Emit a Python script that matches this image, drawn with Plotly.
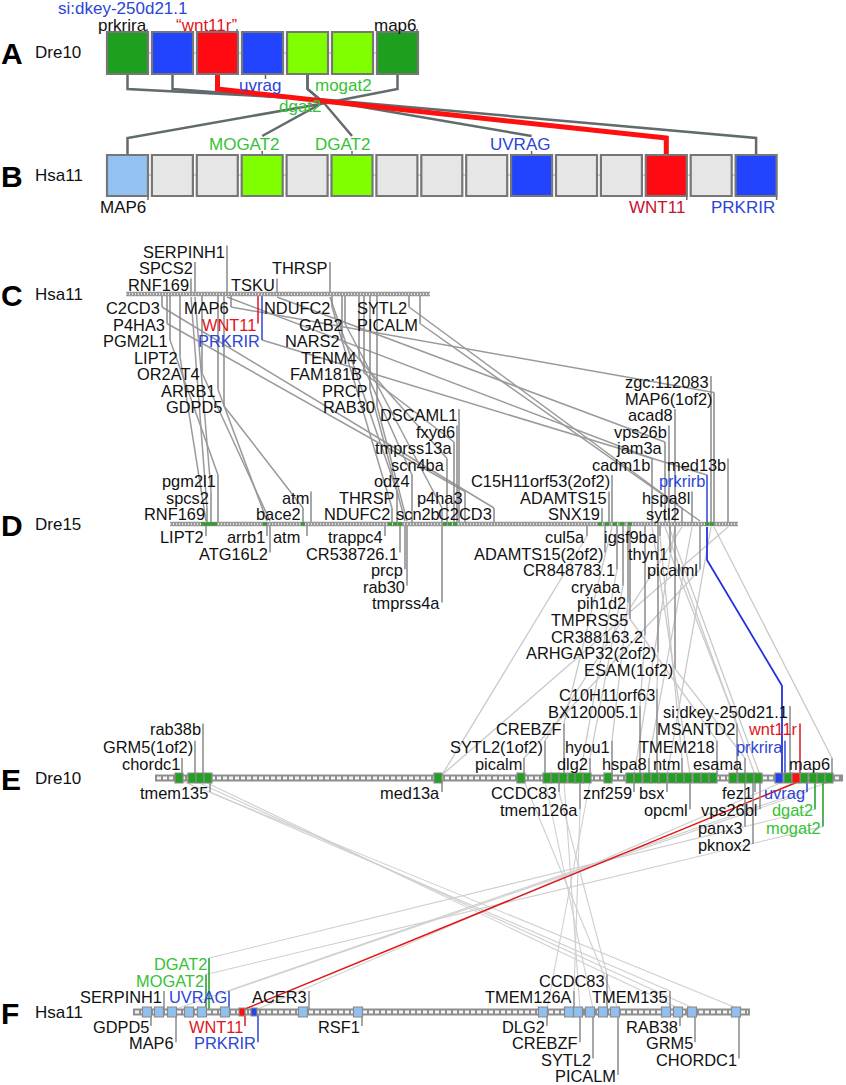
import plotly.graph_objects as go

W, H = 846, 1085
FONT = "Liberation Sans, Arial, sans-serif"
LBL = 16.4
TXT = {"k": "#111111", "r": "#e3141b", "b": "#2b45d6", "g": "#35c235", "R": "#c8102e"}
TICKC = {"k": "#8a8a8a", "r": "#e3141b", "b": "#2b45d6", "g": "#1f9a1f", "R": "#8a8a8a"}

# ---------------- Panel A / B data ----------------
A_names = ["prkrira", "si:dkey-250d21.1", "\u201cwnt11r\u201d", "uvrag", "dgat2", "mogat2", "map6"]
A_fill = ["#1f9f1f", "#2244ff", "#ff0a12", "#2244ff", "#80ff00", "#80ff00", "#1f9f1f"]
A_top_labels = [(0, "prkrira", "k", 1), (1, "si:dkey-250d21.1", "b", 2), (2, "\u201cwnt11r\u201d", "r", 1), (6, "map6", "k", 1)]
A_bottom_labels = [(3, "uvrag", "b"), (5, "mogat2", "g")]
B_fill = ["#93c2f2", "#e6e6e6", "#e6e6e6", "#80ff00", "#e6e6e6", "#80ff00", "#e6e6e6", "#e6e6e6",
          "#e6e6e6", "#2244ff", "#e6e6e6", "#e6e6e6", "#ff0a12", "#e6e6e6", "#2244ff"]
B_top_labels = [(3, "MOGAT2", "g"), (5, "DGAT2", "g"), (9, "UVRAG", "b")]
B_bottom_labels = [(0, "MAP6", "k"), (12, "WNT11", "R"), (14, "PRKRIR", "b")]
AB_links = [(0, 14, "gray"), (1, 9, "gray"), (2, 12, "red"), (4, 5, "gray"), (4, 3, "gray"), (6, 0, "gray")]

# ---------------- Panels C-F: gene labels (name, position on chromosome, label row, colour) ----------------
C_names = ["SERPINH1", "SPCS2", "RNF169", "TSKU", "THRSP", "C2CD3", "MAP6", "NDUFC2", "SYTL2", "P4HA3",
           "WNT11", "GAB2", "PICALM", "PGM2L1", "PRKRIR", "NARS2", "LIPT2", "TENM4", "OR2AT4", "FAM181B",
           "ARRB1", "PRCP", "GDPD5", "RAB30"]
C_pos = [227, 195, 191, 277, 330, 162, 231, 332, 409, 167, 258, 345, 420, 170, 262, 342, 180, 359, 202, 364,
         218, 370, 224, 377]
C_row = [3, 2, 1, 1, 2, -1, -1, -1, -1, -2, -2, -2, -2, -3, -3, -3, -4, -4, -5, -5, -6, -6, -7, -7]
C_col = ["k"] * 10 + ["r"] + ["k"] * 3 + ["b"] + ["k"] * 9

D_names = ["RNF169", "spcs2", "pgm2l1", "bace2", "atm", "NDUFC2", "THRSP", "odz4", "scn2b", "scn4ba",
           "tmprss13a", "fxyd6", "DSCAML1", "p4ha3", "C2CD3", "SNX19", "ADAMTS15", "C15H11orf53(2of2)",
           "cadm1b", "jam3a", "vps26b", "acad8", "MAP6(1of2)", "zgc:112083", "med13b", "prkrirb", "hspa8l",
           "sytl2",
           "LIPT2", "arrb1", "ATG16L2", "atm ", "trappc4", "CR538726.1", "prcp", "rab30", "tmprss4a", "cul5a",
           "ADAMTS15(2of2)", "CR848783.1", "cryaba", "pih1d2", "TMPRSS5", "CR388163.2", "ARHGAP32(2of2)",
           "ESAM(1of2)", "igsf9ba", "thyn1", "picalml"]
D_pos = [207, 211, 218, 303, 311, 392, 397, 412, 442, 447, 454, 457, 459, 465, 494, 602, 609, 612, 652, 665,
         669, 675, 714, 711, 728, 707, 692, 682,
         206, 267, 270, 307, 385, 400, 405, 407, 442, 587, 605, 617, 623, 628, 630, 645, 658, 675, 660, 670, 700]
D_row = [1, 2, 3, 1, 2, 1, 2, 3, 1, 4, 5, 6, 7, 2, 1, 1, 2, 3, 4, 5, 6, 7, 8, 9, 4, 3, 2, 1,
         -1, -1, -2, -1, -1, -2, -3, -4, -5, -1, -2, -3, -4, -5, -6, -7, -8, -9, -1, -2, -3]
D_col = ["k"] * 25 + ["b"] + ["k"] * 23
D_green = [203, 207, 211, 215, 265, 303, 390, 395, 400, 445, 450, 455, 600, 607, 615, 622, 630, 707, 712]

E_names = ["chordc1", "GRM5(1of2)", "rab38b", "picalm", "SYTL2(1of2)", "CREBZF", "dlg2", "hyou1",
           "BX120005.1", "C10H11orf63", "hspa8", "ntm", "TMEM218", "MSANTD2", "si:dkey-250d21.1", "esama",
           "prkrira", "wnt11r", "map6",
           "tmem135", "med13a", "CCDC83", "tmem126a", "znf259", "bsx", "opcml", "panx3", "pknox2", "vps26bl",
           "fez1", "uvrag", "dgat2", "mogat2"]
E_pos = [182, 195, 203, 524, 545, 564, 590, 612, 640, 657, 649, 682, 717, 737, 790, 745, 785, 800, 832,
         210, 442, 559, 580, 634, 667, 690, 745, 753, 760, 755, 807, 815, 823]
E_row = [1, 2, 3, 1, 2, 3, 1, 2, 4, 5, 1, 1, 2, 3, 4, 1, 2, 3, 1,
         -1, -1, -1, -2, -1, -1, -2, -3, -4, -2, -1, -1, -2, -3]
E_col = ["k"] * 16 + ["b", "r", "k"] + ["k"] * 11 + ["b", "g", "g"]
E_green = [179, 192, 200, 208, 438, 521, 547, 555, 563, 572, 579, 587, 608, 630, 638, 647, 655, 663, 672, 680,
           688, 697, 705, 713, 733, 742, 750, 758, 788, 804, 813, 821, 829]
E_blue = [779]
E_red = [796]

F_names = ["SERPINH1", "UVRAG", "MOGAT2", "DGAT2", "ACER3", "TMEM126A", "CCDC83", "TMEM135",
           "GDPD5", "MAP6", "WNT11", "PRKRIR", "RSF1", "DLG2", "CREBZF", "SYTL2", "PICALM", "RAB38", "GRM5",
           "CHORDC1"]
F_pos = [164, 229, 206, 209, 309, 574, 607, 670, 151, 176, 245, 258, 362, 547, 580, 593, 618, 680, 695, 739]
F_row = [1, 1, 2, 3, 1, 1, 2, 1, -1, -2, -1, -2, -1, -1, -2, -3, -4, -1, -2, -3]
F_col = ["k", "b", "g", "g", "k", "k", "k", "k", "k", "k", "r", "b", "k", "k", "k", "k", "k", "k", "k", "k"]
F_boxes = [147, 159, 172, 189, 202, 225, 303, 358, 543, 569, 578, 590, 603, 615, 666, 678, 692, 736]
F_red = [242]
F_blue = [254]

# ---------------- homology links ----------------
CD_links = [("RNF169", "RNF169"), ("SPCS2", "spcs2"), ("PGM2L1", "pgm2l1"), ("LIPT2", "LIPT2"),
            ("OR2AT4", "ATG16L2"), ("ARRB1", "arrb1"), ("GDPD5", "bace2"), ("C2CD3", "C2CD3"),
            ("P4HA3", "p4ha3"), ("THRSP", "THRSP"), ("NDUFC2", "NDUFC2"), ("GAB2", "scn2b"),
            ("NARS2", "scn4ba"), ("TENM4", "odz4"), ("FAM181B", "tmprss13a"), ("PRCP", "prcp"),
            ("RAB30", "rab30"), ("SERPINH1", "cadm1b"), ("TSKU", "jam3a"), ("MAP6", "MAP6(1of2)"),
            ("PRKRIR", "prkrirb"), ("SYTL2", "sytl2"), ("PICALM", "picalml")]
DE_links = [("med13b", "med13a"), ("cul5a", "med13a"), ("sytl2", "SYTL2(1of2)"), ("picalml", "picalm"),
            ("hspa8l", "hspa8"), ("vps26b", "vps26bl"), ("ESAM(1of2)", "esama"), ("MAP6(1of2)", "map6"),
            ("igsf9ba", "ntm"), ("cadm1b", "opcml"), ("CR388163.2", "BX120005.1"),
            ("ARHGAP32(2of2)", "C10H11orf63"), ("TMPRSS5", "TMEM218"), ("thyn1", "MSANTD2"),
            ("jam3a", "fez1"), ("acad8", "znf259"), ("CR848783.1", "tmem126a"), ("pih1d2", "hyou1"),
            ("cryaba", "dlg2"), ("zgc:112083", "bsx"), ("C15H11orf53(2of2)", "CREBZF")]
DE_blue = [("prkrirb", "prkrira")]
EF_links = [("chordc1", "CHORDC1"), ("GRM5(1of2)", "GRM5"), ("rab38b", "RAB38"), ("tmem135", "TMEM135"),
            ("picalm", "PICALM"), ("SYTL2(1of2)", "SYTL2"), ("CREBZF", "CREBZF"), ("CCDC83", "CCDC83"),
            ("tmem126a", "TMEM126A"), ("dlg2", "DLG2"), ("map6", "MAP6"), ("prkrira", "PRKRIR"),
            ("uvrag", "UVRAG"), ("dgat2", "DGAT2"), ("mogat2", "MOGAT2")]
EF_red = [("wnt11r", "WNT11")]

# ---------------- layout geometry ----------------
PAN = {
    "C": dict(bar=294, x0=126, x1=430, up0=9.5, upsp=16.5, dn0=14, dnsp=16.5, name="Hsa11"),
    "D": dict(bar=524, x0=170, x1=738, up0=10, upsp=16.5, dn0=13, dnsp=16.6, name="Dre15"),
    "E": dict(bar=778, x0=155, x1=843, up0=14, upsp=17.3, dn0=15, dnsp=17.3, name="Dre10"),
    "F": dict(bar=1012, x0=133, x1=750, up0=15, upsp=16.5, dn0=15, dnsp=16.3, name="Hsa11"),
}
GENES = {"C": (C_names, C_pos, C_row, C_col), "D": (D_names, D_pos, D_row, D_col),
         "E": (E_names, E_pos, E_row, E_col), "F": (F_names, F_pos, F_row, F_col)}

fig = go.Figure()
shapes, ann = [], []


def add_lines(segs, color, width):
    xs, ys = [], []
    for seg in segs:
        for (x, y) in seg:
            xs.append(x)
            ys.append(y)
        xs.append(None)
        ys.append(None)
    fig.add_trace(go.Scatter(x=xs, y=ys, mode="lines", line=dict(color=color, width=width),
                             hoverinfo="skip", showlegend=False))


def text(x, y, s, color, size=LBL, anchor="right", bold=False):
    ann.append(dict(x=x, y=y, xref="x", yref="y", text=("<b>%s</b>" % s) if bold else s, showarrow=False,
                    xanchor=anchor, yanchor="middle", borderpad=0, borderwidth=0,
                    font=dict(family=FONT, size=size, color=color)))


def row_y(p, r):
    c = PAN[p]
    if r > 0:
        return c["bar"] - c["up0"] - c["upsp"] * (r - 1)
    return c["bar"] + c["dn0"] + c["dnsp"] * (-r - 1)


def tick_end(p, r):
    return row_y(p, r) - 6 if r > 0 else row_y(p, r) - 1


def lookup(p, name):
    names, pos, rows, cols = GENES[p]
    i = names.index(name)
    return pos[i], rows[i]


def link_pts(pu, nu, pl, nl):
    xu, ru = lookup(pu, nu)
    xl, rl = lookup(pl, nl)
    yu = tick_end(pu, ru) if ru < 0 else PAN[pu]["bar"] + 3
    yl = tick_end(pl, rl) if rl > 0 else PAN[pl]["bar"] - 3
    return (xu, yu), (xl, yl)


# ---------------- links between chromosomes ----------------
add_lines([link_pts("C", a, "D", b) for a, b in CD_links], "#9a9a9a", 1.5)
add_lines([link_pts("D", a, "E", b) for a, b in DE_links], "#c9c9c9", 1.3)
add_lines([link_pts("E", a, "F", b) for a, b in EF_links], "#cfcfcf", 1.1)
blue_segs = []
for a, b in DE_blue:
    (xu, yu), (xl, yl) = link_pts("D", a, "E", b)
    blue_segs.append([(xu, PAN["D"]["bar"] + 3), (xu, 560), (xl - 3, yl - 55), (xl - 3, PAN["E"]["bar"] - 4)])
add_lines(blue_segs, "#2233dd", 1.8)
add_lines([link_pts("E", a, "F", b) for a, b in EF_red], "#e01515", 1.5)

# ---------------- ticks and gene labels ----------------
tick_groups = {}
for p, (names, pos, rows, cols) in GENES.items():
    bar = PAN[p]["bar"]
    for n, x, r, c in zip(names, pos, rows, cols):
        y0 = bar - 2 if r > 0 else bar + 2
        tick_groups.setdefault(TICKC[c], []).append([(x, y0), (x, tick_end(p, r))])
        text(x - 2, row_y(p, r), n, TXT[c])
for col, segs in tick_groups.items():
    add_lines(segs, col, 1.5)

# ---------------- chromosome bars ----------------
for p in "CD":
    c = PAN[p]
    add_lines([[(c["x0"], c["bar"]), (c["x1"], c["bar"])]], "#999999", 4.5)
    fig.add_trace(go.Scatter(x=[c["x0"], c["x1"]], y=[c["bar"], c["bar"]], mode="lines",
                             line=dict(color="#e2e2e2", width=2, dash="1px,2px"),
                             hoverinfo="skip", showlegend=False))
for p in "EF":
    c = PAN[p]
    add_lines([[(c["x0"], c["bar"]), (c["x1"], c["bar"])]], "#8e8e8e", 7)
    fig.add_trace(go.Scatter(x=[c["x0"] + 2, c["x1"] - 2], y=[c["bar"], c["bar"]], mode="lines",
                             line=dict(color="#f4f4f4", width=3, dash="4px,2px"),
                             hoverinfo="skip", showlegend=False))

# green bits on Dre15
add_lines([[(x - 2, PAN["D"]["bar"]), (x + 2, PAN["D"]["bar"])] for x in D_green], "#3a9a3a", 3.5)


def gene_box(x, y, w, h, fill):
    shapes.append(dict(type="rect", xref="x", yref="y", x0=x - w / 2, x1=x + w / 2, y0=y - h / 2, y1=y + h / 2,
                       fillcolor=fill, line=dict(color="#8a8a8a", width=1.2), layer="above"))


for x in E_green:
    gene_box(x, PAN["E"]["bar"], 8, 10, "#22a022")
for x in E_blue:
    gene_box(x, PAN["E"]["bar"], 8, 10, "#2244ee")
for x in E_red:
    gene_box(x, PAN["E"]["bar"], 8, 10, "#ff1010")
for x in F_boxes:
    gene_box(x, PAN["F"]["bar"], 9, 10, "#8fc0f0")
for x in F_red:
    gene_box(x, PAN["F"]["bar"], 6, 8, "#ff1010")
for x in F_blue:
    gene_box(x, PAN["F"]["bar"], 6, 8, "#2244ee")

# ---------------- panels A / B ----------------
A_y0, A_y1 = 32, 74
B_y0, B_y1 = 155, 196
BW = 41


def ax(i):
    return 107 + 45 * i


def bx(i):
    return 107 + 44.9 * i


add_lines([[(ax(0), 53), (ax(len(A_fill) - 1) + BW, 53)], [(bx(0), 175), (bx(len(B_fill) - 1) + BW, 175)]],
          "#d6d6d6", 2)

HUB = (323, 101)
gray_segs, red_segs = [], []
for k, (ia, ib, col) in enumerate(AB_links):
    xa = ax(ia) + BW / 2
    xb = bx(ib) + BW / 2
    hub = (HUB[0], HUB[1] + (k - 2) * 0.8)
    labelled = any(i == ib for i, _, _ in B_top_labels)
    tail = [(xb, 136)] if labelled else [(xb, 138), (xb, B_y0)]
    seg = [(xa, A_y1), (xa, 89), hub] + tail
    (red_segs if col == "red" else gray_segs).append(seg)
add_lines(gray_segs, "#5f6b6d", 2.5)
add_lines(red_segs, "#ff1010", 5)

small_ticks = []
for i, name, c, r in A_top_labels:
    text(ax(i) + BW - 1 - (5 if r == 2 else 0), 25 if r == 1 else 8, name, TXT[c], size=17)
    if r == 1:
        small_ticks.append([(ax(i) + BW - 1, 29), (ax(i) + BW - 1, A_y0)])
for i, name, c in A_bottom_labels:
    text(ax(i) + BW - 1, 85, name, TXT[c], size=17)
small_ticks.append([(ax(3) + BW / 2 + 3, A_y1), (ax(3) + BW / 2 + 3, 79)])
text(HUB[0] - 1, HUB[1] + 5, "dgat2", TXT["g"], size=17)
for i, name, c in B_top_labels:
    xc = bx(i) + BW / 2
    text(xc + 18, 144, name, TXT[c], size=17)
    small_ticks.append([(xc, 151), (xc, B_y0)])
for i, name, c in B_bottom_labels:
    xr = bx(i) + BW
    text(xr - 2, 207, name, TXT[c], size=17)
    small_ticks.append([(xr, B_y1), (xr, 200)])
add_lines(small_ticks, "#6a6a6a", 1.5)

for i, f in enumerate(A_fill):
    shapes.append(dict(type="rect", xref="x", yref="y", x0=ax(i), x1=ax(i) + BW, y0=A_y0, y1=A_y1,
                       fillcolor=f, line=dict(color="#767676", width=2.2), layer="above"))
for i, f in enumerate(B_fill):
    shapes.append(dict(type="rect", xref="x", yref="y", x0=bx(i), x1=bx(i) + BW, y0=B_y0, y1=B_y1,
                       fillcolor=f, line=dict(color="#767676", width=2.2), layer="above"))

# ---------------- panel letters & chromosome names ----------------
letters = [("A", 52, "Dre10"), ("B", 175, "Hsa11")] + [(p, PAN[p]["bar"], PAN[p]["name"]) for p in "CDEF"]
for L, y, nm in letters:
    text(1, y + 1, L, "#000000", size=30, anchor="left", bold=True)
    text(35, y, nm, "#111111", size=17, anchor="left")

fig.update_layout(
    width=W, height=H, margin=dict(l=0, r=0, t=0, b=0, pad=0),
    paper_bgcolor="white", plot_bgcolor="white", showlegend=False,
    xaxis=dict(range=[0, W], visible=False, fixedrange=True),
    yaxis=dict(range=[H, 0], visible=False, fixedrange=True),
    shapes=shapes, annotations=ann,
)
fig.write_html("out.html", config={"displayModeBar": False, "staticPlot": True},
               post_script="document.body.style.margin='0px';document.body.style.padding='0px';"
                           "document.documentElement.style.overflow='hidden';")
